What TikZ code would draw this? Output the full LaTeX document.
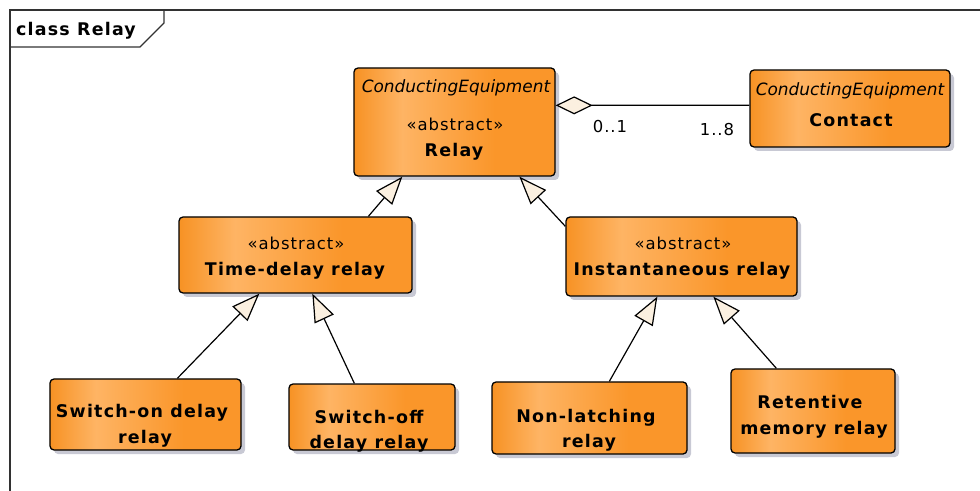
\documentclass[tikz,border=0pt]{standalone}
\usepackage{fontspec}
\setmainfont{DejaVu Sans}
\usetikzlibrary{arrows.meta,shadows,calc}
\definecolor{oA}{RGB}{247,146,36}
\definecolor{oB}{RGB}{254,180,100}
\definecolor{oC}{RGB}{250,150,42}
\definecolor{trifill}{RGB}{251,240,224}
\definecolor{shadowgray}{RGB}{200,201,212}
\definecolor{framecol}{RGB}{50,50,50}
\pgfdeclarehorizontalshading{umlorange}{100bp}{color(0bp)=(oA); color(25bp)=(oA); color(37bp)=(oB); color(60bp)=(oC); color(75bp)=(oC); color(100bp)=(oC)}
\tikzset{
  umlbox/.style={draw=black, line width=1.3bp, rounded corners=4bp, shading=umlorange, shading angle=0, inner sep=0pt,
    drop shadow={shadow xshift=4bp, shadow yshift=-4bp, fill=shadowgray, opacity=1}},
  itxt/.style={anchor=base, inner sep=0pt, font=\fontsize{17}{20}\selectfont\itshape},
  rtxt/.style={anchor=base, inner sep=0pt, font=\fontsize{16.5}{20}\selectfont\addfontfeature{LetterSpace=6}},
  btxt/.style={anchor=base, inner sep=0pt, font=\fontsize{17.5}{20}\selectfont\bfseries\addfontfeature{LetterSpace=7}},
  gen/.style={draw=black, line width=1.2bp, -{Triangle[length=28bp,width=21bp,fill=trifill,line width=1.2bp]}},
  agg/.style={draw=black, line width=1.2bp, {Diamond[length=37bp,width=18bp,fill=trifill,line width=1.2bp]}-},
}
\begin{document}
\begin{tikzpicture}[x=1bp,y=-1bp]
\useasboundingbox (0,0) rectangle (980,491);
% frame
\draw[framecol, line width=1.3bp] (980,10) -- (10,10) -- (10,491);
\draw[framecol, line width=1.3bp] (164,10) -- (164,23) -- (140,47) -- (10,47);
\node[btxt] (title) at (76,36) {class Relay};

% boxes
\node[umlbox, minimum width=201bp, minimum height=108bp] (relay) at (454.5,122) {};
\node[umlbox, minimum width=200bp, minimum height=77bp] (contact) at (850,108.5) {};
\node[umlbox, minimum width=233bp, minimum height=76bp] (tdr) at (295.5,255) {};
\node[umlbox, minimum width=231bp, minimum height=79bp] (inst) at (681.5,256.5) {};
\node[umlbox, minimum width=191bp, minimum height=71bp] (son) at (145.5,414.5) {};
\node[umlbox, minimum width=166bp, minimum height=66bp] (soff) at (372,417) {};
\node[umlbox, minimum width=195bp, minimum height=72bp] (nl) at (589.5,418) {};
\node[umlbox, minimum width=164bp, minimum height=84bp] (ret) at (813,411) {};

% texts
\node[itxt] (relayst) at (456,93) {ConductingEquipment};
\node[rtxt] (relayab) at (455,131) {«abstract»};
\node[btxt] (relayname) at (454,157) {Relay};
\node[itxt] (contst) at (850,96) {ConductingEquipment};
\node[btxt] (contname) at (851,127) {Contact};
\node[rtxt] (tdrab) at (296,250) {«abstract»};
\node[btxt] (tdrname) at (295,276) {Time-delay relay};
\node[rtxt] (instab) at (683,250) {«abstract»};
\node[btxt] (instname) at (682,276) {Instantaneous relay};
\node[btxt] (son1) at (142,417) {Switch-on delay};
\node[btxt] (son2) at (145,443) {relay};
\node[btxt] (soff1) at (369,423) {Switch-off};
\node[btxt] (soff2) at (369,448) {delay relay};
\node[btxt] (nl1) at (586,422) {Non-latching};
\node[btxt] (nl2) at (589,447) {relay};
\node[btxt] (ret1) at (810,408) {Retentive};
\node[btxt] (ret2) at (814,434) {memory relay};

% generalizations
\draw[gen] ([xshift=190bp]tdr.north west) -- ([xshift=49bp]relay.south west);
\draw[gen] ([yshift=-10bp]inst.north west) -- ([xshift=166bp]relay.south west);
\draw[gen] ([xshift=128bp]son.north west) -- ([xshift=81bp]tdr.south west);
\draw[gen] ([xshift=66bp]soff.north west) -- ([xshift=134bp]tdr.south west);
\draw[gen] ([xshift=118bp]nl.north west) -- ([xshift=92bp]inst.south west);
\draw[gen] ([xshift=46bp]ret.north west) -- ([xshift=148bp]inst.south west);

% aggregation
\draw[agg] ([yshift=-38bp]relay.north east) -- ([yshift=-36bp]contact.north west);
\node[rtxt] (m1) at (610,133) {0..1};
\node[rtxt] (m2) at (717,136) {1..8};
\end{tikzpicture}
\end{document}
